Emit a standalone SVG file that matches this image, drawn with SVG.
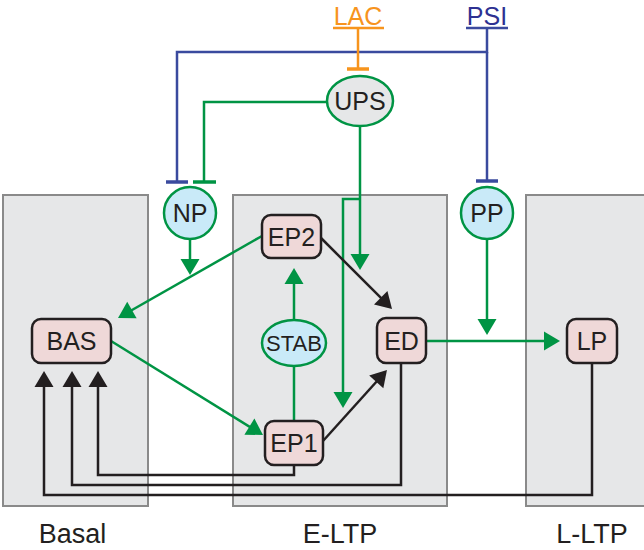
<svg xmlns="http://www.w3.org/2000/svg" width="644" height="550" viewBox="0 0 644 550">
<style>
.panel{fill:#E6E7E8;stroke:#8A8A8A;stroke-width:2}
.box{fill:#EFD8D8;stroke:#231F20;stroke-width:2.5}
.blue-node{fill:#C9EAF8;stroke:#009444;stroke-width:2.5}
.gray-node{fill:#E6E7E8;stroke:#009444;stroke-width:2.5}
.t{font-family:"Liberation Sans",Arial,sans-serif;font-size:25px;fill:#231F20;text-anchor:middle}
.lab{font-family:"Liberation Sans",Arial,sans-serif;font-size:27px;fill:#231F20;text-anchor:middle}
.g{fill:none;stroke:#009444;stroke-width:2.5}
.k{fill:none;stroke:#231F20;stroke-width:2.5}
.b{fill:none;stroke:#3A4A9E;stroke-width:2.5}
.o{fill:none;stroke:#F7941D;stroke-width:2.5}
.bar{stroke-width:3.5}
</style>
<defs>
<marker id="ag" markerUnits="userSpaceOnUse" markerWidth="16" markerHeight="19" viewBox="0 0 16 19" refX="12" refY="9.5" orient="auto" overflow="visible"><path d="M0,0 L16,9.5 L0,19 z" fill="#009444"/></marker>
<marker id="ak" markerUnits="userSpaceOnUse" markerWidth="16" markerHeight="19" viewBox="0 0 16 19" refX="12" refY="9.5" orient="auto" overflow="visible"><path d="M0,0 L16,9.5 L0,19 z" fill="#231F20"/></marker>
</defs>
<g id="panels">
<rect class="panel" x="3" y="195" width="145" height="311"/>
<rect class="panel" x="233" y="195" width="214" height="311"/>
<rect class="panel" x="526" y="195" width="130" height="311"/>
<text class="lab" x="72.5" y="543">Basal</text>
<text class="lab" x="340" y="543">E-LTP</text>
<text class="lab" x="592" y="543">L-LTP</text>
</g>
<g id="connectors">
<path class="b" d="M487,28 V52 H177 V182"/>
<path class="b bar" d="M166,182 H188"/>
<path class="b" d="M487,52 V181"/>
<path class="b bar" d="M476,181 H498"/>
<path class="o" d="M358,28 V69"/>
<path class="o bar" d="M347,69 H369"/>
<path class="g" d="M327,102 H204 V182"/>
<path class="g bar" d="M193,182 H216"/>
<path class="g" d="M360,126 V266" marker-end="url(#ag)"/>
<path class="g" d="M360,199 H343 V404" marker-end="url(#ag)"/>
<path class="g" d="M190,239 V271" marker-end="url(#ag)"/>
<path class="g" d="M487,239 V331" marker-end="url(#ag)"/>
<path class="g" d="M426,341 H556" marker-end="url(#ag)"/>
<path class="g" d="M294,320 V272" marker-end="url(#ag)"/>
<path class="g" d="M294,366 V421"/>
<path class="g" d="M262,236 L121.5,316" marker-end="url(#ag)"/>
<path class="g" d="M111,341 L259.6,432.9" marker-end="url(#ag)"/>
<path class="k" d="M321,238 L389.2,306.2" marker-end="url(#ak)"/>
<path class="k" d="M323,441 L384.3,373" marker-end="url(#ak)"/>
<path class="k" d="M294,465 V475 H98 V375" marker-end="url(#ak)"/>
<path class="k" d="M401,363 V485 H72 V375" marker-end="url(#ak)"/>
<path class="k" d="M592,363 V495 H44 V375" marker-end="url(#ak)"/>
</g>
<g id="LAC">
<text x="358" y="25" font-family="Liberation Sans, Arial, sans-serif" font-size="25" fill="#F7941D" text-anchor="middle">LAC</text>
<path class="o" d="M333,28 H384"/>
</g>
<g id="PSI">
<text x="487" y="25" font-family="Liberation Sans, Arial, sans-serif" font-size="25" fill="#2E3192" text-anchor="middle">PSI</text>
<path class="b" d="M466,28 H508"/>
</g>
<g id="UPS"><ellipse class="gray-node" cx="360" cy="101" rx="33" ry="25"/><text class="t" x="360" y="110">UPS</text></g>
<g id="NP"><circle class="blue-node" cx="190" cy="213" r="26"/><text class="t" x="190" y="222">NP</text></g>
<g id="PP"><circle class="blue-node" cx="487" cy="213" r="26"/><text class="t" x="487" y="222">PP</text></g>
<g id="STAB"><ellipse class="blue-node" cx="294" cy="343" rx="32" ry="23"/><text class="t" x="294" y="351" style="font-size:22px">STAB</text></g>
<g id="BAS"><rect class="box" x="32" y="319" width="79" height="44" rx="9"/><text class="t" x="71.5" y="350">BAS</text></g>
<g id="EP2"><rect class="box" x="262" y="215" width="59" height="43" rx="9"/><text class="t" x="291.5" y="245.5">EP2</text></g>
<g id="EP1"><rect class="box" x="265" y="421" width="58" height="44" rx="9"/><text class="t" x="294" y="452">EP1</text></g>
<g id="ED"><rect class="box" x="377" y="318" width="49" height="45" rx="9"/><text class="t" x="401.5" y="349.5">ED</text></g>
<g id="LP"><rect class="box" x="567" y="319" width="50" height="44" rx="9"/><text class="t" x="592" y="350">LP</text></g>
</svg>
